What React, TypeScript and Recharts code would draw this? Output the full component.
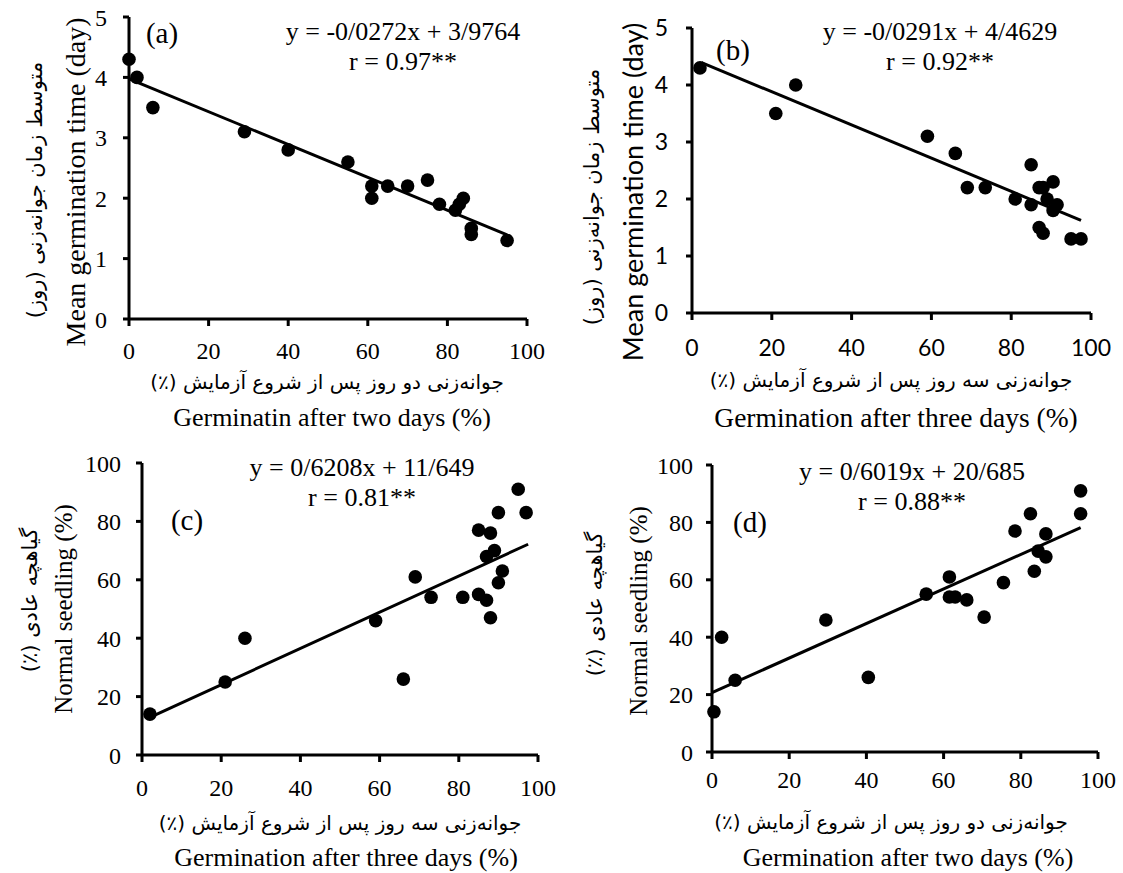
import React from 'react';
import { ScatterChart, Scatter, XAxis, YAxis, ReferenceLine } from 'recharts';

// (a) germination after two days vs mean germination time
const twoDaysA = [0, 2, 6, 29, 40, 55, 61, 61, 65, 70, 75, 78, 82, 83, 84, 86, 86, 95];
const mgtA = [4.3, 4.0, 3.5, 3.1, 2.8, 2.6, 2.2, 2.0, 2.2, 2.2, 2.3, 1.9, 1.8, 1.9, 2.0, 1.5, 1.4, 1.3];

// (b) germination after three days vs mean germination time
const threeDaysB = [2, 21, 26, 59, 66, 69, 73.5, 81, 85, 85, 87, 88, 90.5, 89, 91.5, 90.5, 87, 88, 95, 97.5];
const mgtB = [4.3, 3.5, 4.0, 3.1, 2.8, 2.2, 2.2, 2.0, 2.6, 1.9, 2.2, 2.2, 2.3, 2.0, 1.9, 1.8, 1.5, 1.4, 1.3, 1.3];

// (c) germination after three days vs normal seedling
const threeDaysC = [2, 21, 26, 59, 66, 69, 73, 81, 85, 85, 87, 88, 87, 88, 89, 90, 90, 91, 95, 97];
const seedlingC = [14, 25, 40, 46, 26, 61, 54, 54, 77, 55, 68, 76, 53, 47, 70, 83, 59, 63, 91, 83];

// (d) germination after two days vs normal seedling
const twoDaysD = [0.5, 2.5, 6, 29.5, 40.5, 55.5, 61.5, 61.5, 63, 66, 70.5, 75.5, 78.5, 82.5, 83.5, 84.5, 86.5, 86.5, 95.5, 95.5];
const seedlingD = [14, 40, 25, 46, 26, 55, 61, 54, 54, 53, 47, 59, 77, 83, 63, 70, 76, 68, 91, 83];

const xTicks = [0, 20, 40, 60, 80, 100];
const mgtTicks = [0, 1, 2, 3, 4, 5];
const seedlingTicks = [0, 20, 40, 60, 80, 100];

const SERIF = '"Liberation Serif", "Times New Roman", serif';
const SANS = 'Lato, "Liberation Sans", sans-serif';
const PERSIAN = '"DejaVu Sans", sans-serif';

const zip = (xs: number[], ys: number[]) => xs.map((x, i) => ({ x, y: ys[i] }));

const Dot = (props: any) => <circle cx={props.cx} cy={props.cy} r={6.8} fill="#000" />;

const panels = [
  {
    key: 'a', left: 0, top: 0, width: 560, height: 436,
    margin: { top: 17, right: 33, bottom: 87, left: 69 },
    data: zip(twoDaysA, mgtA), yDomain: [0, 5], yTicks: mgtTicks,
    fit: { slope: -0.0272, intercept: 3.9764, from: 0, to: 95 },
    tickFont: SERIF, tickSize: 24, xTickMargin: 16, yTickMargin: 16,
    letter: { text: '(a)', x: 162, y: 33 },
    eq: ['y = -0/0272x + 3/9764', 'r = 0.97**'], eqX: 403, eqY: [31, 61],
    yTitle: 'Mean germination time (day)', yTitleFont: SERIF, yTitleSize: 28, yTitleX: 75, yTitleY: 182,
    yPersian: 'متوسط زمان جوانه‌زنی (روز)', yPersianX: 35, yPersianY: 190,
    xPersian: 'جوانه‌زنی دو روز پس از شروع آزمایش (٪)', xPersianX: 327, xPersianY: 382,
    xTitle: 'Germinatin after two days (%)', xTitleSize: 26, xTitleX: 332, xTitleY: 417,
  },
  {
    key: 'b', left: 560, top: 0, width: 563, height: 436,
    margin: { top: 28, right: 32, bottom: 93, left: 72 },
    data: zip(threeDaysB, mgtB), yDomain: [0, 5], yTicks: mgtTicks,
    fit: { slope: -0.0291, intercept: 4.4629, from: 2.4, to: 97.5 },
    tickFont: SANS, tickSize: 23, xTickMargin: 20, yTickMargin: 18,
    letter: { text: '(b)', x: 733, y: 50 },
    eq: ['y = -0/0291x + 4/4629', 'r = 0.92**'], eqX: 940, eqY: [31, 61],
    yTitle: 'Mean germination time (day)', yTitleFont: SANS, yTitleSize: 27, yTitleX: 632, yTitleY: 192,
    yPersian: 'متوسط زمان جوانه‌زنی (روز)', yPersianX: 592, yPersianY: 197,
    xPersian: 'جوانه‌زنی سه روز پس از شروع آزمایش (٪)', xPersianX: 891, xPersianY: 380,
    xTitle: 'Germination after three days (%)', xTitleSize: 27.5, xTitleX: 896, xTitleY: 417,
  },
  {
    key: 'c', left: 0, top: 436, width: 560, height: 437,
    margin: { top: 27, right: 22, bottom: 88, left: 82 },
    data: zip(threeDaysC, seedlingC), yDomain: [0, 100], yTicks: seedlingTicks,
    fit: { slope: 0.6208, intercept: 11.649, from: 2, to: 97.5 },
    tickFont: SERIF, tickSize: 24, xTickMargin: 17, yTickMargin: 15,
    letter: { text: '(c)', x: 187, y: 520 },
    eq: ['y = 0/6208x + 11/649', 'r = 0.81**'], eqX: 362, eqY: [467, 497],
    yTitle: 'Normal seedling (%)', yTitleFont: SERIF, yTitleSize: 25, yTitleX: 63, yTitleY: 609,
    yPersian: 'گیاهچه عادی (٪)', yPersianX: 30, yPersianY: 600,
    xPersian: 'جوانه‌زنی سه روز پس از شروع آزمایش (٪)', xPersianX: 340, xPersianY: 823,
    xTitle: 'Germination after three days (%)', xTitleSize: 26, xTitleX: 346, xTitleY: 857,
  },
  {
    key: 'd', left: 560, top: 436, width: 563, height: 437,
    margin: { top: 29, right: 25, bottom: 91, left: 92 },
    data: zip(twoDaysD, seedlingD), yDomain: [0, 100], yTicks: seedlingTicks,
    fit: { slope: 0.6019, intercept: 20.685, from: 0, to: 95.5 },
    tickFont: SERIF, tickSize: 24, xTickMargin: 12, yTickMargin: 13,
    letter: { text: '(d)', x: 750, y: 522 },
    eq: ['y = 0/6019x + 20/685', 'r = 0.88**'], eqX: 912, eqY: [471, 501],
    yTitle: 'Normal seedling (%)', yTitleFont: SERIF, yTitleSize: 25, yTitleX: 638, yTitleY: 611,
    yPersian: 'گیاهچه عادی (٪)', yPersianX: 595, yPersianY: 604,
    xPersian: 'جوانه‌زنی دو روز پس از شروع آزمایش (٪)', xPersianX: 891, xPersianY: 822,
    xTitle: 'Germination after two days (%)', xTitleSize: 26, xTitleX: 908, xTitleY: 857,
  },
];

const axisStroke = { stroke: '#000', strokeWidth: 3 };

const Panel = ({ p }: { p: (typeof panels)[number] }) => {
  const ox = p.left;
  const oy = p.top;
  const f = p.fit;
  return (
    <div style={{ position: 'absolute', left: p.left, top: p.top, width: p.width, height: p.height }}>
      <ScatterChart width={p.width} height={p.height} margin={p.margin}>
        <XAxis
          type="number"
          dataKey="x"
          domain={[0, 100]}
          ticks={xTicks}
          interval={0}
          height={30}
          axisLine={axisStroke}
          tickLine={axisStroke}
          tickSize={7}
          tickMargin={p.xTickMargin}
          tick={{ fill: '#000', fontSize: p.tickSize, fontFamily: p.tickFont }}
        />
        <YAxis
          type="number"
          dataKey="y"
          domain={p.yDomain}
          ticks={p.yTicks}
          interval={0}
          width={60}
          axisLine={axisStroke}
          tickLine={axisStroke}
          tickSize={6}
          tickMargin={p.yTickMargin}
          tick={{ fill: '#000', fontSize: p.tickSize, fontFamily: p.tickFont }}
        />
        <ReferenceLine
          segment={[
            { x: f.from, y: f.slope * f.from + f.intercept },
            { x: f.to, y: f.slope * f.to + f.intercept },
          ]}
          stroke="#000"
          strokeWidth={3}
        />
        <Scatter data={p.data} shape={Dot} isAnimationActive={false} />
      </ScatterChart>
      <svg
        width={p.width}
        height={p.height}
        style={{ position: 'absolute', left: 0, top: 0, pointerEvents: 'none' }}
      >
        <g fill="#000" textAnchor="middle" dominantBaseline="central">
          <text x={p.letter.x - ox} y={p.letter.y - oy} fontFamily={SERIF} fontSize={29}>{p.letter.text}</text>
          <text x={p.eqX - ox} y={p.eqY[0] - oy} fontFamily={SERIF} fontSize={26}>{p.eq[0]}</text>
          <text x={p.eqX - ox} y={p.eqY[1] - oy} fontFamily={SERIF} fontSize={26}>{p.eq[1]}</text>
          <text
            transform={`translate(${p.yTitleX - ox},${p.yTitleY - oy}) rotate(-90)`}
            fontFamily={p.yTitleFont}
            fontSize={p.yTitleSize}
          >
            {p.yTitle}
          </text>
          <text
            transform={`translate(${p.yPersianX - ox},${p.yPersianY - oy}) rotate(-90)`}
            fontFamily={PERSIAN}
            fontSize={21}
            direction="rtl"
          >
            {p.yPersian}
          </text>
          <text x={p.xPersianX - ox} y={p.xPersianY - oy} fontFamily={PERSIAN} fontSize={20} direction="rtl">
            {p.xPersian}
          </text>
          <text x={p.xTitleX - ox} y={p.xTitleY - oy} fontFamily={SERIF} fontSize={p.xTitleSize}>{p.xTitle}</text>
        </g>
      </svg>
    </div>
  );
};

export default function App() {
  return (
    <div style={{ position: 'absolute', left: 0, top: 0, width: 1123, height: 873, background: '#fff' }}>
      {panels.map(p => (
        <Panel key={p.key} p={p} />
      ))}
    </div>
  );
}
